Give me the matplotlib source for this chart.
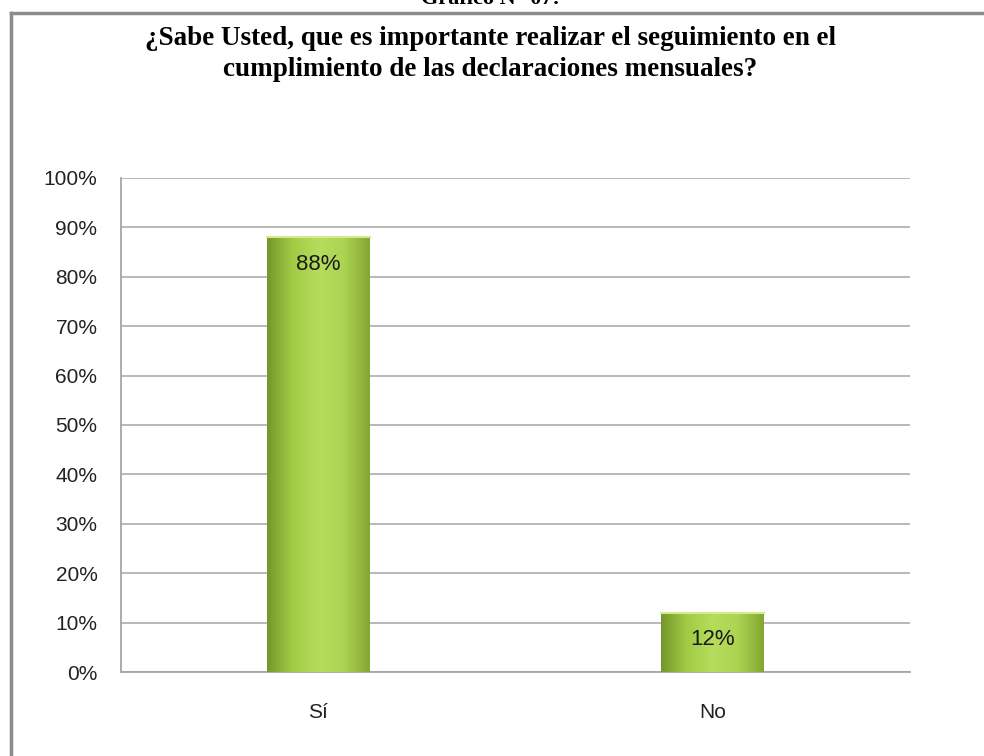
import numpy as np
import matplotlib.pyplot as plt
from matplotlib.colors import LinearSegmentedColormap

categories = ['Sí', 'No']
values = [0.88, 0.12]
value_labels = ['88%', '12%']
y_ticks = [0, 0.1, 0.2, 0.3, 0.4, 0.5, 0.6, 0.7, 0.8, 0.9, 1.0]
y_tick_labels = ['0%', '10%', '20%', '30%', '40%', '50%', '60%', '70%', '80%', '90%', '100%']

title = '¿Sabe Usted, que es importante realizar el seguimiento en el\ncumplimiento de las declaraciones mensuales?'
caption = 'Gráfico N° 07:'

fig = plt.figure(figsize=(9.84, 7.56), dpi=100)
fig.patch.set_facecolor('white')

# outer frame (only top and left edges are visible in the crop)
fig.add_artist(plt.Line2D([11 / 984, 11 / 984], [0, 1 - 13 / 756], color='#8c8c8c', lw=2.5))
fig.add_artist(plt.Line2D([11 / 984, 1], [1 - 13 / 756, 1 - 13 / 756], color='#8c8c8c', lw=2.5))

fig.text(0.498, 1.0 + 1 / 756, caption, ha='center', va='center',
         family='Liberation Serif', weight='bold', fontsize=16)
fig.text(0.498, 1 - 54 / 756, title, ha='center', va='center',
         family='Liberation Serif', weight='bold', fontsize=19.5, linespacing=1.28)

ax = fig.add_axes([121 / 984, 84 / 756, 789 / 984, 494 / 756])
x = np.arange(len(categories))
width = 0.26
bars = ax.bar(x, values, width=width, color='#a2cc44', edgecolor='none', zorder=2)

# horizontal gradient to mimic the bevelled green fill
cmap = LinearSegmentedColormap.from_list('grn', ['#76962a', '#a2cc44', '#b6dc5c', '#acd452', '#84a632'])
grad = np.linspace(0, 1, 256).reshape(1, -1)
for b in bars:
    x0, w, h = b.get_x(), b.get_width(), b.get_height()
    im = ax.imshow(grad, cmap=cmap, aspect='auto', extent=(x0, x0 + w, 0, h), zorder=3)
    im.set_clip_path(b)
    ax.plot([x0, x0 + w], [h, h], color='#d2ea90', lw=1.5, zorder=4)

for b, lab in zip(bars, value_labels):
    ax.text(b.get_x() + b.get_width() / 2, b.get_height() - 0.055, lab, ha='center', va='center',
            fontsize=16, family='Liberation Sans', color='#1a1a1a', zorder=5)

ax.set_xlim(-0.5, 1.5)
ax.set_ylim(0, 1.0)
ax.set_yticks(y_ticks)
ax.set_yticklabels(y_tick_labels, fontsize=15, family='Liberation Sans', color='#222222')
ax.set_xticks(x)
ax.set_xticklabels(categories, fontsize=15, family='Liberation Sans', color='#222222')
ax.tick_params(axis='y', length=0, pad=17)
ax.tick_params(axis='x', length=0, pad=22)
ax.yaxis.grid(True, color='#a6a6a6', lw=1.1, zorder=0)
ax.set_axisbelow(True)
for s in ['top', 'right']:
    ax.spines[s].set_visible(False)
for s in ['left', 'bottom']:
    ax.spines[s].set_color('#a6a6a6')
    ax.spines[s].set_linewidth(1.3)

fig.savefig('out.png', dpi=100, facecolor='white')
